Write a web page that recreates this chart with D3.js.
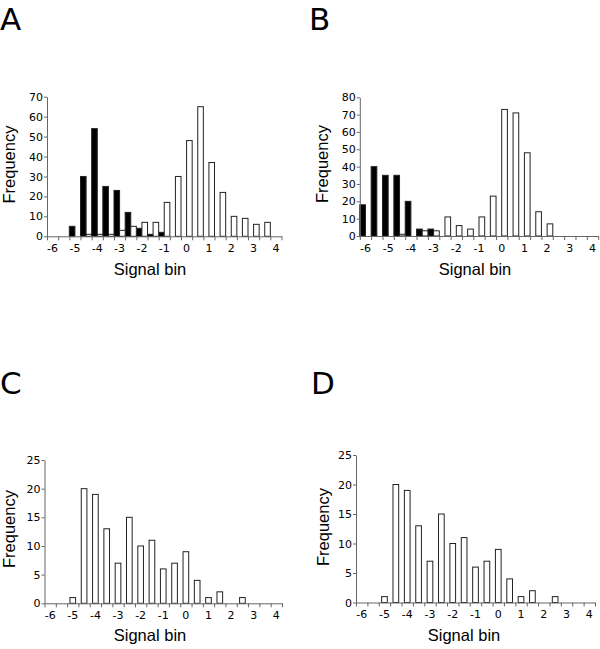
<!DOCTYPE html>
<html>
<head>
<meta charset="utf-8">
<script src="https://cdn.jsdelivr.net/npm/d3@7"></script>
<style>
  body { margin: 0; background: #fff; }
  svg { display: block; }
  .tick text { font-family: "DejaVu Sans", sans-serif; font-size: 11px; fill: #000; }
  .axis path, .axis line { stroke: #666; }
</style>
</head>
<body>
<div id="chart"></div>
<script>
// Signal bins, every half unit; only whole numbers get a label
const bins = ["-6","-5.5","-5","-4.5","-4","-3.5","-3","-2.5","-2","-1.5","-1",
              "-0.5","0","0.5","1","1.5","2","2.5","3","3.5","4"];

// panel A
const aBlack = [0,0,5,30,54,25,23,12,4,1,2,0,0,0,0,0,0,0,0,0,0];
const aWhite = [0,0,0,1,1,1,3,5,7,7,17,30,48,65,37,22,10,9,6,7,0];
// panel B
const bBlack = [18,40,35,35,20,4,4,0,0,0,0,0,0,0,0,0,0,0,0,0,0];
const bWhite = [0,0,0,1,0,3,3,11,6,4,11,23,73,71,48,14,7,0,0,0,0];
// panels C and D
const cWhite = [0,0,1,20,19,13,7,15,10,11,6,7,9,4,1,2,0,1,0,0,0];
const dWhite = [0,0,1,20,19,13,7,15,10,11,6,7,9,4,1,2,0,1,0,0,0];

const yTicksAB = [[0,10,20,30,40,50,60,70], [0,10,20,30,40,50,60,70,80]];
const yTicksCD = [0,5,10,15,20,25];

const svg = d3.select("#chart").append("svg")
    .attr("width", 600)
    .attr("height", 649);

function drawPanel(p) {
    let g = svg.append("g");

    let x = d3.scaleBand().domain(bins).range([p.left, p.right]).padding(0);
    let edge = d3.scaleLinear().domain([0, bins.length]).range([p.left, p.right]);
    let y = d3.scaleLinear().domain([0, d3.max(p.yTicks)]).range([p.bottom, p.top]);
    let bw = x.bandwidth();

    // bars
    p.series.forEach(function(s) {
        let rows = bins.map(function(b, i) { return {bin: b, v: s.values[i]}; })
            .filter(function(d) { return d.v > 0; });
        g.append("g").selectAll("rect").data(rows).enter()
            .append("rect")
            .attr("x", function(d) { return x(d.bin) + s.offset * bw; })
            .attr("y", function(d) { return y(d.v); })
            .attr("width", bw / 2)
            .attr("height", function(d) { return y(0) - y(d.v); })
            .attr("fill", s.fill)
            .attr("stroke", "#222")
            .attr("stroke-width", 1);
    });

    // y axis
    g.append("g")
        .attr("class", "axis")
        .attr("transform", `translate(${p.left}, 0)`)
        .call(d3.axisLeft(y).tickValues(p.yTicks).tickSize(3).tickSizeOuter(0).tickPadding(1));

    // x axis: ticks on the bin edges
    g.append("g")
        .attr("class", "axis")
        .attr("transform", `translate(0, ${p.bottom})`)
        .call(d3.axisBottom(edge).tickValues(d3.range(bins.length + 1)).tickSize(4).tickSizeOuter(0).tickFormat(""));

    // x labels on the bin centres
    let lab = g.append("g")
        .attr("class", "axis")
        .attr("transform", `translate(0, ${p.bottom})`)
        .call(d3.axisBottom(x).tickSize(0).tickPadding(8)
            .tickFormat(function(d) { return Number.isInteger(+d) ? d : ""; }));
    lab.select(".domain").remove();

    g.append("text")
        .attr("transform", `translate(${p.freqX}, ${p.freqY}) rotate(-90)`)
        .attr("text-anchor", "middle")
        .attr("dy", "0.35em")
        .style("font-family", "Liberation Sans, Arial, sans-serif")
        .style("font-size", "16.5px")
        .text("Frequency");

    g.append("text")
        .attr("x", p.sigX)
        .attr("y", p.sigY)
        .attr("text-anchor", "middle")
        .style("font-family", "Liberation Sans, Arial, sans-serif")
        .style("font-size", "16.5px")
        .text("Signal bin");

    g.append("text")
        .attr("x", p.letterX)
        .attr("y", p.letterY)
        .style("font-family", "DejaVu Sans, sans-serif")
        .style("font-size", "31px")
        .text(p.letter);
}

drawPanel({letter: "A", letterX: 0, letterY: 30,
    left: 47, right: 281.5, top: 96.7, bottom: 236.3, yTicks: yTicksAB[0],
    freqX: 9.5, freqY: 164.5, sigX: 150, sigY: 275,
    series: [{values: aBlack, fill: "#000", offset: 0}, {values: aWhite, fill: "#fff", offset: 0.5}]});

drawPanel({letter: "B", letterX: 309, letterY: 30,
    left: 359.8, right: 598.2, top: 97.3, bottom: 236, yTicks: yTicksAB[1],
    freqX: 322, freqY: 164, sigX: 475, sigY: 275,
    series: [{values: bBlack, fill: "#000", offset: 0}, {values: bWhite, fill: "#fff", offset: 0.5}]});

drawPanel({letter: "C", letterX: 0, letterY: 394,
    left: 44.5, right: 282, top: 460, bottom: 603.3, yTicks: yTicksCD,
    freqX: 9.5, freqY: 529, sigX: 150, sigY: 641,
    series: [{values: cWhite, fill: "#fff", offset: 0.25}]});

drawPanel({letter: "D", letterX: 311, letterY: 394,
    left: 356, right: 595, top: 455, bottom: 602.5, yTicks: yTicksCD,
    freqX: 323, freqY: 527, sigX: 464, sigY: 641,
    series: [{values: dWhite, fill: "#fff", offset: 0.25}]});
</script>
</body>
</html>
